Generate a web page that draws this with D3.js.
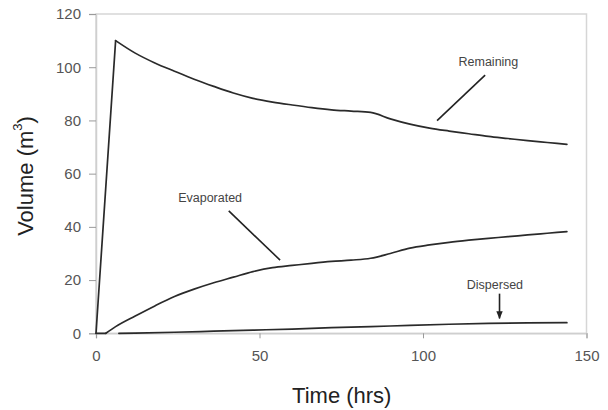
<!DOCTYPE html>
<html>
<head>
<meta charset="utf-8">
<script src="https://cdn.jsdelivr.net/npm/d3@7"></script>
<style>
  html, body { margin: 0; padding: 0; background: #fff; }
  svg { display: block; font-family: Arial, "Liberation Sans", sans-serif; }
</style>
</head>
<body>
<svg id="chart" width="608" height="410"></svg>
<script>
// ---- Data ----
const remainingTime  = [0, 6, 12, 18, 24, 30, 36, 42, 48, 54, 60, 66, 72, 78, 84, 90, 96, 102, 108, 114, 120, 126, 132, 138, 144];
const remainingVol   = [0, 110, 105.3, 101.6, 98.5, 95.5, 92.8, 90.3, 88.3, 86.9, 85.8, 84.8, 84, 83.5, 83, 80.6, 78.6, 77.1, 76, 75, 74, 73.2, 72.4, 71.7, 71];

const evaporatedTime = [0, 3, 6, 12, 18, 24, 30, 36, 42, 48, 54, 60, 66, 72, 78, 84, 90, 96, 102, 108, 114, 120, 126, 132, 138, 144];
const evaporatedVol  = [0, 0, 2.5, 6.5, 10.3, 13.8, 16.6, 19, 21.1, 23.2, 24.7, 25.5, 26.3, 27, 27.5, 28.2, 30, 32, 33.2, 34.2, 35, 35.7, 36.3, 37, 37.6, 38.2];

const dispersedTime  = [7, 12, 24, 36, 48, 60, 72, 84, 96, 108, 120, 132, 144];
const dispersedVol   = [0, 0.1, 0.4, 0.8, 1.2, 1.6, 2.1, 2.5, 3.0, 3.4, 3.7, 3.9, 4.0];

// index where each series stops being a straight segment and becomes smooth
const smoothFrom = [1, 1, 0];

const xTicks = [0, 50, 100, 150];
const yTicks = [0, 20, 40, 60, 80, 100, 120];

// annotation labels with leader lines (data units)
const annoLabels = ["Remaining", "Evaporated", "Dispersed"];
const annoLabelAt = [[120, 101.6], [34.9, 50.4], [122, 18]];
const annoLineFrom = [[119, 97], [40.6, 46], [123.4, 14.9]];
const annoLineTo   = [[104.3, 79.9], [56.3, 27.5], [123.4, 5.6]];

const xTitle = "Time (hrs)";
const yTitle = "Volume (m";

// ---- Layout ----
const svg = d3.select("#chart");
const mLeft = 96, mRight = 586.5, mTop = 14, mBottom = 333.3;

const x = d3.scaleLinear().domain([0, 150]).range([mLeft, mRight]);
const y = d3.scaleLinear().domain([0, 120]).range([mBottom, mTop]);

// frame
svg.append("rect")
  .attr("x", mLeft).attr("y", mTop)
  .attr("width", mRight - mLeft).attr("height", mBottom - mTop)
  .attr("fill", "none").attr("stroke", "#d6d6d6").attr("stroke-width", 1.5);

// axes
const xAxis = svg.append("g").attr("transform", `translate(0,${mBottom})`)
  .call(d3.axisBottom(x).tickValues(xTicks).tickSize(5).tickPadding(12));
const yAxis = svg.append("g").attr("transform", `translate(${mLeft},0)`)
  .call(d3.axisLeft(y).tickValues(yTicks).tickSize(7).tickPadding(8));
[xAxis, yAxis].forEach(g => {
  g.select(".domain").attr("stroke", "#cfcfcf").attr("stroke-width", 1.5);
  g.selectAll(".tick line").attr("stroke", "#9a9a9a").attr("stroke-width", 1);
  g.selectAll(".tick text").attr("fill", "#555").style("font-size", "15px")
    .style("font-family", "Arial, 'Liberation Sans', sans-serif");
});

// lines
const straight = d3.line().x(d => x(d[0])).y(d => y(d[1]));
const smooth = d3.line().x(d => x(d[0])).y(d => y(d[1])).curve(d3.curveMonotoneX);
const series = [
  d3.zip(remainingTime, remainingVol),
  d3.zip(evaporatedTime, evaporatedVol),
  d3.zip(dispersedTime, dispersedVol)
];
const gLines = svg.append("g")
  .attr("fill", "none").attr("stroke", "#2a2a2a")
  .attr("stroke-width", 1.7).attr("stroke-linejoin", "round").attr("stroke-linecap", "round");
series.forEach((pts, i) => {
  const k = smoothFrom[i];
  if (k > 0) gLines.append("path").attr("d", straight(pts.slice(0, k + 1)));
  gLines.append("path").attr("d", smooth(pts.slice(k)));
});

// arrow marker
svg.append("defs").append("marker")
  .attr("id", "arr").attr("viewBox", "0 0 10 10")
  .attr("refX", 9).attr("refY", 5)
  .attr("markerWidth", 5).attr("markerHeight", 5)
  .attr("orient", "auto")
  .append("path").attr("d", "M0,1 L10,5 L0,9 Z").attr("fill", "#222");

// annotations
const ann = svg.append("g");
annoLabels.forEach((lab, i) => {
  ann.append("text")
    .attr("x", x(annoLabelAt[i][0])).attr("y", y(annoLabelAt[i][1]))
    .attr("text-anchor", "middle").attr("dominant-baseline", "middle")
    .attr("fill", "#444").style("font-size", "12.5px")
    .text(lab);
  ann.append("line")
    .attr("x1", x(annoLineFrom[i][0])).attr("y1", y(annoLineFrom[i][1]))
    .attr("x2", x(annoLineTo[i][0])).attr("y2", y(annoLineTo[i][1]))
    .attr("stroke", "#222").attr("stroke-width", 1.6)
    .attr("marker-end", i === 2 ? "url(#arr)" : null);
});

// axis titles
svg.append("text")
  .attr("x", (mLeft + mRight) / 2 + 0.5).attr("y", 397)
  .attr("text-anchor", "middle").attr("dominant-baseline", "middle")
  .attr("fill", "#222").style("font-size", "22px")
  .text(xTitle);

const yt = svg.append("text")
  .attr("transform", "translate(27,176) rotate(-90)")
  .attr("text-anchor", "middle").attr("dominant-baseline", "middle")
  .attr("fill", "#222").style("font-size", "22px");
yt.append("tspan").text(yTitle);
yt.append("tspan").attr("dy", "-8").style("font-size", "13px").text("3");
yt.append("tspan").attr("dy", "8").text(")");
</script>
</body>
</html>
